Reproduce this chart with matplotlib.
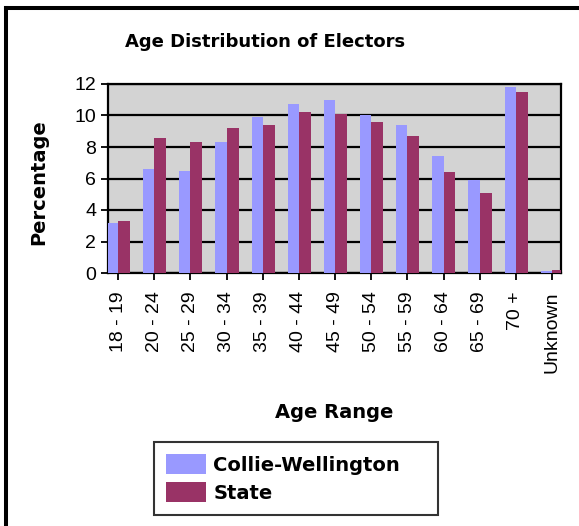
import matplotlib
matplotlib.use("Agg")
import matplotlib.pyplot as plt
from matplotlib.lines import Line2D
import numpy as np

categories = ["18 - 19", "20 - 24", "25 - 29", "30 - 34", "35 - 39", "40 - 44",
              "45 - 49", "50 - 54", "55 - 59", "60 - 64", "65 - 69", "70 +", "Unknown"]
collie_wellington = [3.2, 6.6, 6.5, 8.3, 9.9, 10.7, 11.0, 10.0, 9.4, 7.4, 5.9, 11.8, 0.1]
state = [3.3, 8.6, 8.3, 9.2, 9.4, 10.2, 10.1, 9.6, 8.7, 6.4, 5.1, 11.5, 0.2]
yticks = [0, 2, 4, 6, 8, 10, 12]

W, H = 579, 526
fig = plt.figure(figsize=(W / 100, H / 100), dpi=100)
fig.patch.set_facecolor("white")

ax = fig.add_axes([108 / W, 1 - 273 / H, (561 - 108) / W, (273 - 84) / H])
ax.set_facecolor("#D3D3D3")

x = np.arange(len(categories))
ax.bar(x, collie_wellington, width=-0.31, align="edge", color="#9999FF",
       label="Collie-Wellington", zorder=3)
ax.bar(x, state, width=0.33, align="edge", color="#993366",
       label="State", zorder=3)

ax.set_xlim(-0.28, len(categories) - 1 + 0.25)
ax.set_ylim(0, 12)
ax.set_yticks(yticks)
ax.set_yticklabels([str(v) for v in yticks], family="Liberation Sans", fontsize=14)
ax.set_xticks(x)
ax.set_xticklabels(categories, rotation=90, family="Liberation Sans", fontsize=14)
ax.tick_params(axis="y", direction="out", length=5, width=1.3, pad=3.5, color="black")
ax.tick_params(axis="x", direction="out", length=5, width=1.3, pad=8, color="black")

ax.yaxis.grid(True, color="black", linewidth=1.6, zorder=1)
ax.set_axisbelow(True)
for s in ax.spines.values():
    s.set_color("black")
    s.set_linewidth(1.6)

fig.text(265.5 / W, 1 - 46.7 / H, "Age Distribution of Electors", ha="center",
         va="baseline", fontsize=13, fontweight="bold", family="DejaVu Sans")
fig.text(334.5 / W, 1 - 418 / H, "Age Range", ha="center", va="baseline",
         fontsize=14, fontweight="bold", family="DejaVu Sans")
fig.text(39 / W, 1 - 182 / H, "Percentage", ha="center", va="center", rotation=90,
         fontsize=14, fontweight="bold", family="DejaVu Sans")

leg = fig.legend(loc="center", bbox_to_anchor=(154 / W, 1 - 478.5 / H, 284 / W, 0),
                 mode="expand",
                 prop={"family": "DejaVu Sans", "weight": "bold", "size": 14},
                 frameon=True, fancybox=False, shadow=False,
                 handlelength=2.06, handleheight=1.2, handletextpad=0.4,
                 labelspacing=0.4, borderpad=0.6, borderaxespad=0)
leg.get_frame().set_edgecolor("black")
leg.get_frame().set_linewidth(1.5)

# figure border (left and top)
fig.add_artist(Line2D([6 / W, 6 / W], [0, 1 - 8 / H], transform=fig.transFigure,
                      color="black", linewidth=2.9, solid_capstyle="projecting"))
fig.add_artist(Line2D([6 / W, 1], [1 - 8 / H, 1 - 8 / H], transform=fig.transFigure,
                      color="black", linewidth=2.9, solid_capstyle="projecting"))

fig.savefig("out.png", dpi=100)
